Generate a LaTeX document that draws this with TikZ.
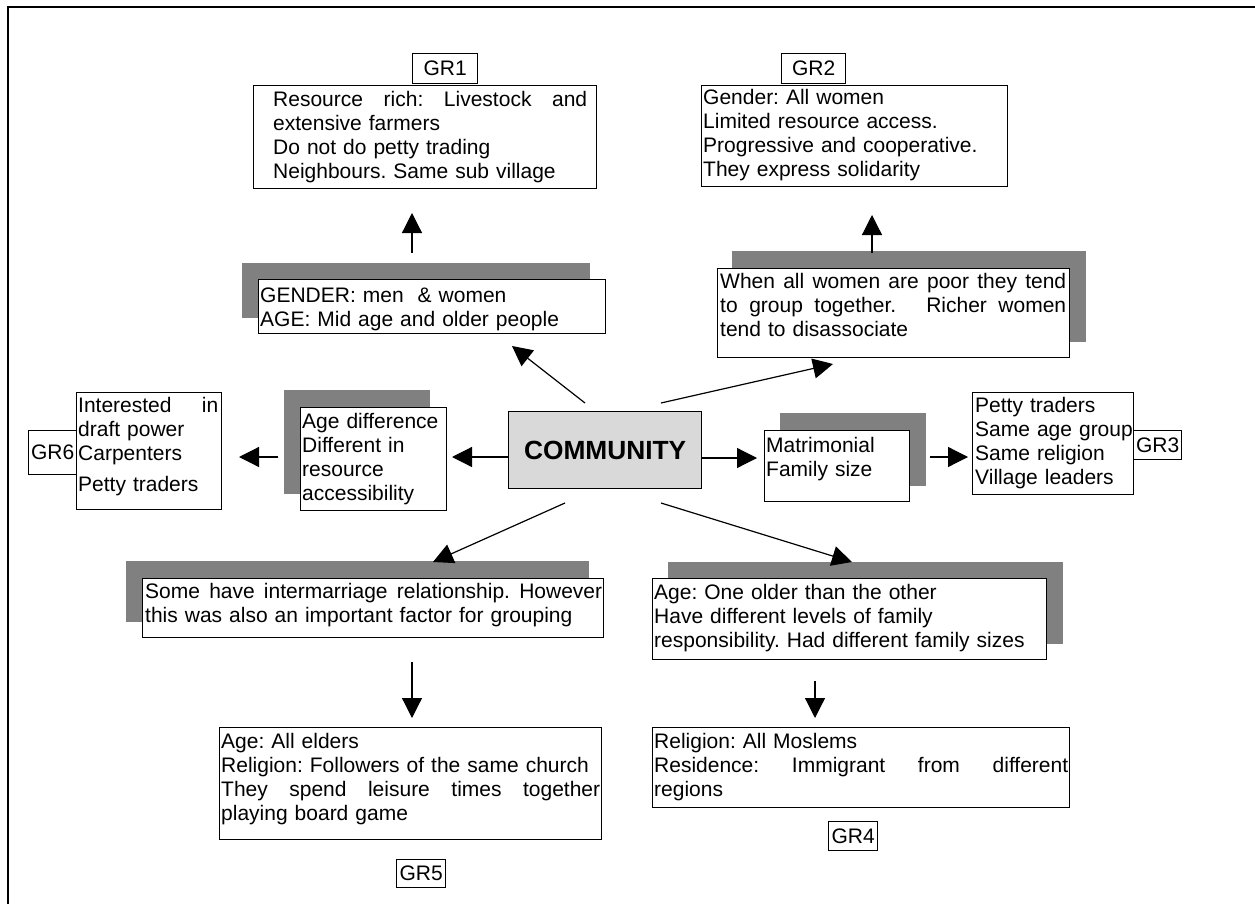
\documentclass[tikz,border=0pt]{standalone}
\usepackage{fontspec}
\setmainfont{Liberation Sans}
\usetikzlibrary{arrows.meta}
\definecolor{shade}{RGB}{128,128,128}
\definecolor{hub}{RGB}{217,217,217}
\frenchspacing
% a justified line: words separated by \hfill inside a box of the given width
\newcommand\spreadline[2]{\leavevmode\hbox to #1{#2}}

\begin{document}
\begin{tikzpicture}[x=1pt,y=-1pt,
  boxed/.style={draw=black, line width=1.3pt, fill=white, inner sep=0pt, anchor=north west},
  shadowbox/.style={fill=shade, draw=none, inner sep=0pt, anchor=north west},
  txt/.style={inner sep=0pt, anchor=base west, font=\fontsize{21}{24}\selectfont, align=left},
  tag/.style={boxed, font=\fontsize{21}{24}\selectfont},
  arr/.style={line width=1.2pt, -{Triangle[length=20pt,width=20pt]}},
]
\useasboundingbox (0,0) rectangle (1255,904);
\fill[white] (0,0) rectangle (1255,904);
\clip (0,0) rectangle (1255,904);

% outer frame
\draw[line width=2pt] (8,7.5) rectangle (1300,950);

% shadows
\node[shadowbox, minimum width=348, minimum height=55] (gendersh) at (242,263) {};
\node[shadowbox, minimum width=354, minimum height=91] (whysh) at (732,251) {};
\node[shadowbox, minimum width=146, minimum height=104] (agesh) at (284,390) {};
\node[shadowbox, minimum width=146, minimum height=73] (matrish) at (780,413) {};
\node[shadowbox, minimum width=463, minimum height=61] (intersh) at (126,561) {};
\node[shadowbox, minimum width=395, minimum height=82] (oldersh) at (668,562) {};

% group boxes and reason boxes
\node[boxed, minimum width=343, minimum height=103] (gr1) at (253,85) {};
\node[tag, minimum width=65, minimum height=30] (gr1lab) at (412,53) {GR1};
\node[boxed, minimum width=306, minimum height=101] (gr2) at (701,85) {};
\node[tag, minimum width=64, minimum height=30] (gr2lab) at (781,53) {GR2};
\node[boxed, minimum width=347, minimum height=54] (gender) at (258,279) {};
\node[boxed, minimum width=352, minimum height=89] (why) at (717,268) {};
\node[boxed, fill=hub, minimum width=193, minimum height=77, font=\fontsize{26.3}{30}\selectfont\bfseries] (comm) at (508,411) {COMMUNITY};
\node[boxed, minimum width=146, minimum height=103] (agediff) at (300,407) {};
\node[boxed, minimum width=145, minimum height=117] (gr6) at (76,392) {};
\node[tag, minimum width=48, minimum height=44] (gr6lab) at (28,430) {GR6};
\node[boxed, minimum width=145, minimum height=71] (matri) at (764,430) {};
\node[boxed, minimum width=161, minimum height=102] (gr3) at (972,392) {};
\node[tag, minimum width=48, minimum height=29] (gr3lab) at (1133,430) {GR3};
\node[boxed, minimum width=461, minimum height=59] (inter) at (142,578) {};
\node[boxed, minimum width=382, minimum height=112] (gr5) at (219,727) {};
\node[tag, minimum width=49, minimum height=28] (gr5lab) at (396,859) {GR5};
\node[boxed, minimum width=394, minimum height=81] (older) at (652,578) {};
\node[boxed, minimum width=417, minimum height=80] (gr4) at (652,727) {};
\node[tag, minimum width=49, minimum height=29] (gr4lab) at (828,821) {GR4};

% box texts
\node[txt, text width=314] (gr1t) at (273,107)
  {\spreadline{314pt}{Resource\hfill rich:\hfill Livestock\hfill and}\\extensive farmers\\Do not do petty trading\\Neighbours. Same sub village};
\node[txt, text width=300] (gr2t) at (703,105)
  {Gender: All women\\Limited resource access.\\Progressive and cooperative.\\They express solidarity};
\node[txt, text width=340] (gendert) at (260,302)
  {GENDER: men\ \ \& women\\AGE: Mid age and older people};
\node[txt, text width=346] (whyt) at (720,288)
  {\spreadline{346pt}{When\hfill all\hfill women\hfill are\hfill poor\hfill they\hfill tend}\\\spreadline{346pt}{to\hfill group\hfill together.\hfill\ \hfill Richer\hfill women}\\tend to disassociate};
\node[txt, text width=144] (agedifft) at (302,428)
  {Age difference\\Different in\\resource\\accessibility};
\node[txt, text width=140] (gr6t) at (78,412)
  {\spreadline{140pt}{Interested\hfill in}\\draft power\\Carpenters\\[7pt]Petty traders};
\node[txt, text width=140] (matrit) at (766,452)
  {Matrimonial\\Family size};
\node[txt, text width=158] (gr3t) at (975,412)
  {Petty traders\\Same age group\\Same religion\\Village leaders};
\node[txt, text width=457] (intert) at (145,598)
  {\spreadline{457pt}{Some\hfill have\hfill intermarriage\hfill relationship.\hfill However}\\this was also an important factor for grouping};
\node[txt, text width=379] (gr5t) at (221,748)
  {Age: All elders\\Religion: Followers of the same church\\\spreadline{379pt}{They\hfill spend\hfill leisure\hfill times\hfill together}\\playing board game};
\node[txt, text width=390] (oldert) at (654,599)
  {Age: One older than the other\\Have different levels of family\\responsibility. Had different family sizes};
\node[txt, text width=414] (gr4t) at (654,748)
  {Religion: All Moslems\\\spreadline{414pt}{Residence:\hfill Immigrant\hfill from\hfill different}\\regions};

% connector end points
\coordinate (a1s) at (412,253); \coordinate (a1e) at (412,213);
\coordinate (a2s) at (872,253); \coordinate (a2e) at (872,215);
\coordinate (a3s) at (585,403); \coordinate (a3e) at (512,346);
\coordinate (a4s) at (661,403); \coordinate (a4e) at (833,364);
\coordinate (a5e) at (757,458);
\coordinate (a6s) at (930,457); \coordinate (a6e) at (968,457);
\coordinate (a7e) at (452,457);
\coordinate (a8s) at (278,457); \coordinate (a8e) at (239,457);
\coordinate (a9s) at (565,503); \coordinate (a9e) at (433,562);
\coordinate (a10s) at (661,503); \coordinate (a10e) at (852,562);
\coordinate (a11s) at (412,662); \coordinate (a11e) at (412,718);
\coordinate (a12s) at (815,681); \coordinate (a12e) at (815,718);

% connectors
\draw[arr] (a1s) -- (a1e);
\draw[arr] (a2s) -- (a2e);
\draw[arr] (a3s) -- (a3e);
\draw[arr] (a4s) -- (a4e);
\draw[arr] (comm.east |- a5e) -- (a5e);
\draw[arr] (a6s) -- (a6e);
\draw[arr] (comm.west |- a7e) -- (a7e);
\draw[arr] (a8s) -- (a8e);
\draw[arr] (a9s) -- (a9e);
\draw[arr] (a10s) -- (a10e);
\draw[arr] (a11s) -- (a11e);
\draw[arr] (a12s) -- (a12e);
\end{tikzpicture}
\end{document}
